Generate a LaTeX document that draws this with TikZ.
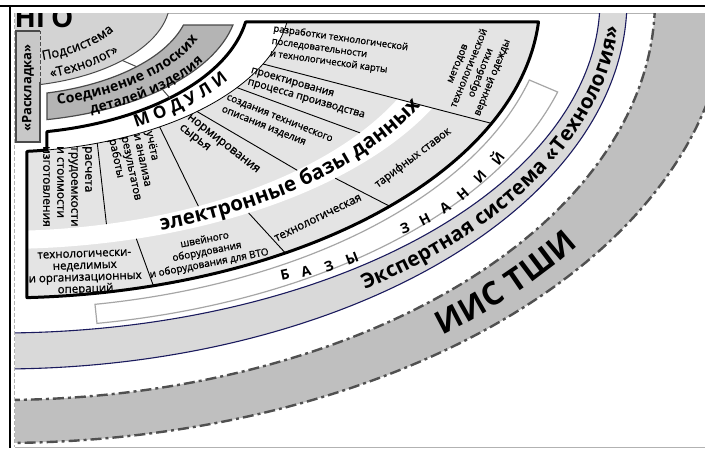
\documentclass[tikz,border=0pt]{standalone}
\usepackage{fontspec}
\setmainfont{Open Sans}
\newfontfamily\semifont[FakeBold=1]{Open Sans}
\usetikzlibrary{decorations.text}

\definecolor{iisfill}{HTML}{BFBFBF}
\definecolor{expfill}{HTML}{D9D9D9}
\definecolor{secfill}{HTML}{E4E4E4}
\definecolor{joinfill}{HTML}{B4B4B4}
\definecolor{subfill}{HTML}{D3D3D3}
\definecolor{layfill}{HTML}{C8C8C8}
\definecolor{navyline}{HTML}{1B1B5E}
\definecolor{dashline}{HTML}{505050}
\definecolor{edgegray}{HTML}{4A4A4A}

% outline of the modules / data bases block
\newcommand{\modoutline}{({asin(22/134)}:249 and 134)
  arc[start angle={asin(22/134)}, end angle={acos(47/249)}, x radius=249, y radius=134]
  -- ({acos(47/290)}:290 and 152)
  arc[start angle={acos(47/290)}, end angle={acos(27/290)}, x radius=290, y radius=152]
  -- ({acos(27/540)}:540 and 298)
  arc[start angle={acos(27/540)}, end angle={asin(22/298)}, x radius=540, y radius=298]
  -- cycle}

\begin{document}
\begin{tikzpicture}[
  x=1pt, y=-1pt,
  iisdash/.style={dashline, line width=2.4pt, dash pattern=on 11pt off 4pt on 3pt off 4pt},
  navyarc/.style={navyline, line width=1.1pt},
  divline/.style={black, line width=0.9pt},
  secttext/.style={inner sep=0pt, align=left},
  lowtext/.style={inner sep=0pt, align=center},
  kbletter/.style={inner sep=0pt, font=\fontsize{14}{14}\selectfont\bfseries},
  arctext/.style={decorate, decoration={text along path, text align=left, raise=#1}},
]
\useasboundingbox (0,0) rectangle (705,448);

% ---- frame ----
\draw[line width=2.5pt] (0,6) -- (705,6);
\draw[line width=2.5pt] (10,6) -- (10,448);
\draw[gray!60] (15,13) -- (705,13);
\draw[gray!60] (15,447) -- (705,447);
\draw[gray!60, line width=1pt, dash pattern=on 4pt off 2pt] (14.5,13) -- (14.5,447);

\begin{scope}
\clip (15,13) rectangle (705,446.5);

% ---- ИИС ТШИ ----
\fill[iisfill] (95:655 and 400) arc[start angle=95, end angle=-5, x radius=655, y radius=400]
  -- (-5:727 and 443) arc[start angle=-5, end angle=95, x radius=727, y radius=443] -- cycle;
\draw[iisdash] (95:655 and 400) arc[start angle=95, end angle=-5, x radius=655, y radius=400];
\draw[iisdash] (95:727 and 443) arc[start angle=95, end angle=-5, x radius=727, y radius=443];
\path[arctext=-11pt, decoration={text={|\fontsize{32}{32}\selectfont\bfseries|ИИС ТШИ}}]
  (50.7:691 and 421) arc[start angle=50.7, end angle=5, x radius=691, y radius=421];

% ---- Экспертная система ----
\fill[expfill] (95:600 and 333) arc[start angle=95, end angle=-5, x radius=600, y radius=333]
  -- (-5:627 and 369) arc[start angle=-5, end angle=95, x radius=627, y radius=369] -- cycle;
\draw[navyarc] (95:600 and 333) arc[start angle=95, end angle=-5, x radius=600, y radius=333];
\draw[navyarc] (95:627 and 369) arc[start angle=95, end angle=-5, x radius=627, y radius=369];
\path[arctext=-7pt, decoration={text={|\fontsize{20.5}{20.5}\selectfont\bfseries|Экспертная система «Технология»}}]
  (53.8:613 and 351) arc[start angle=53.8, end angle=-8, x radius=613, y radius=351];

% ---- базы знаний ----
\draw[gray!70, line width=1.2pt, fill=white]
  ({acos(95/548)}:548 and 309)
  arc[start angle={acos(95/548)}, end angle={asin(80/309)}, x radius=548, y radius=309]
  -- ({asin(92/328)}:581 and 328)
  arc[start angle={asin(92/328)}, end angle={acos(97/581)}, x radius=581, y radius=328] -- cycle;
\node[kbletter, rotate=12] (kb1) at (285,275) {Б};
\node[kbletter, rotate=15] (kb2) at (306,271) {А};
\node[kbletter, rotate=18] (kb3) at (329,266) {З};
\node[kbletter, rotate=21] (kb4) at (352,259) {Ы};
\node[kbletter, rotate=20] (kb5) at (405,228) {З};
\node[kbletter, rotate=27] (kb6) at (425,220) {Н};
\node[kbletter, rotate=34] (kb7) at (445,208) {А};
\node[kbletter, rotate=41] (kb8) at (463,194) {Н};
\node[kbletter, rotate=48] (kb9) at (480,177) {И};
\node[kbletter, rotate=54] (kb10) at (497,158) {Й};

% ---- модули и электронные базы данных ----
\begin{scope}
\clip \modoutline;
\fill[secfill] (95:290 and 152) arc[start angle=95, end angle=-5, x radius=290, y radius=152]
  -- (-5:540 and 298) arc[start angle=-5, end angle=95, x radius=540, y radius=298] -- cycle;
\fill[white] (95:440 and 231) arc[start angle=95, end angle=25.4, x radius=440, y radius=231]
  -- (25.7:480 and 249) arc[start angle=25.7, end angle=95, x radius=480, y radius=249] -- cycle;
\draw[line width=0.8pt] (95:290 and 152) arc[start angle=95, end angle=-5, x radius=290, y radius=152];
\end{scope}
\draw[divline] (70.4:290 and 152) -- (76:440 and 231);
\draw[divline] (56.6:290 and 152) -- (63.2:440 and 231);
\draw[divline] (47.2:290 and 152) -- (47.5:440 and 231);
\draw[divline] (35.2:290 and 152) -- (35.1:440 and 231);
\draw[divline] (24.9:290 and 152) -- (24.46:540 and 298);
\draw[divline] (73.5:480 and 249) -- (73.5:540 and 298);
\draw[divline] (58.8:480 and 249) -- (58.1:540 and 298);
\draw[divline] (45.7:480 and 249) -- (43.8:540 and 298);
\draw[line width=3pt, line join=round] \modoutline;

\path[arctext=-6pt, decoration={text={|\fontsize{17}{17}\selectfont\bfseries|М О Д У Л И}}]
  ({acos(134/266)}:266 and 141) arc[start angle={acos(134/266)}, end angle=10, x radius=266, y radius=141];
\path[arctext=-5.5pt, decoration={text={|\fontsize{20.5}{20.5}\selectfont\bfseries|электронные базы данных}}]
  ({acos(160/460)}:460 and 240) arc[start angle={acos(160/460)}, end angle=10, x radius=460, y radius=240];

\node[secttext, rotate=-90, anchor=north west, font=\fontsize{12}{14}\semifont] (calc) at (92,146)
  {расчета\\трудоемкости\\и стоимости\\изготовления};
\node[secttext, rotate=-78, anchor=north west, font=\fontsize{11}{12.5}\semifont] (work) at (154,130)
  {учёта\\и анализа\\результатов\\работы};
\node[secttext, rotate=-38, anchor=north west, font=\fontsize{12}{13}\semifont] (norm) at (191,113)
  {нормирования\\сырья};
\node[secttext, rotate=-22, anchor=north west, font=\fontsize{10}{13}\semifont] (descr) at (228,94)
  {создания технического\\описания изделия};
\node[secttext, rotate=-16, anchor=north west, font=\fontsize{10.5}{12}\semifont] (proc) at (252,67)
  {проектирования\\процесса производства};
\node[secttext, rotate=-8, anchor=north west, font=\fontsize{9.5}{12.5}\semifont] (seq) at (274,24)
  {разработки технологической\\последовательности\\и технологической карты};

\node[lowtext, rotate=2, font=\fontsize{11.5}{11.8}\semifont] (oper) at (85,273)
  {технологически-\\неделимых\\и организационных\\операций};
\node[lowtext, rotate=11, font=\fontsize{10}{12}\semifont] (equip) at (207,252)
  {швейного\\оборудования\\и оборудования для ВТО};
\node[lowtext, rotate=26, font=\fontsize{11.5}{12}\semifont] (tech) at (318,218) {технологическая};
\node[lowtext, rotate=37, font=\fontsize{11}{12}\semifont] (rate) at (413,158) {тарифных ставок};
\node[lowtext, rotate=68, font=\fontsize{10}{12.5}\semifont] (meth) at (476,71)
  {методов\\технологической\\обработки\\верхней одежды};

% ---- Соединение плоских деталей изделия ----
\draw[edgegray, line width=1.2pt, fill=joinfill]
  ({acos(47/190)}:190 and 96)
  arc[start angle={acos(47/190)}, end angle={asin(25/96)}, x radius=190, y radius=96]
  -- ({asin(25/122)}:238 and 122)
  arc[start angle={asin(25/122)}, end angle={acos(47/238)}, x radius=238, y radius=122] -- cycle;
\draw[edgegray, line width=1pt] (47:238 and 122) -- (47:249 and 134);
\path[arctext=-4.5pt, decoration={text={|\fontsize{14}{14}\selectfont\bfseries|Соединение плоских}}]
  ({acos(57/208)}:208 and 104) arc[start angle={acos(57/208)}, end angle=-5, x radius=208, y radius=104];
\path[arctext=-4.5pt, decoration={text={|\fontsize{13.5}{13.5}\selectfont\bfseries|деталей изделия}}]
  ({acos(90/230)}:230 and 119) arc[start angle={acos(90/230)}, end angle=-5, x radius=230, y radius=119];

% ---- Подсистема «Технолог» ----
\draw[edgegray, line width=1pt, fill=subfill] (0,0) ellipse[x radius=170, y radius=87];
\draw[edgegray, line width=1pt] (44:170 and 87) -- (44:190 and 96);
\path[arctext=-4.5pt, decoration={text={|\fontsize{13}{13}\semifont|Подсистема}}]
  ({acos(42/125)}:125 and 59) arc[start angle={acos(42/125)}, end angle=-5, x radius=125, y radius=59];
\path[arctext=-4.5pt, decoration={text={|\fontsize{13}{13}\semifont|«Технолог»}}]
  ({acos(50/148)}:148 and 77.5) arc[start angle={acos(50/148)}, end angle=-5, x radius=148, y radius=77.5];
\node[anchor=base, font=\fontsize{28}{28}\selectfont\bfseries] (ngo) at (44,27) {НГО};

% ---- «Раскладка» ----
\fill[layfill] (16,31) rectangle (40,142);
\draw[edgegray, line width=1.2pt] (40,31) -- (16,31) -- (16,142) -- (40,142) -- (40,82);
\draw[edgegray, line width=1pt, dash pattern=on 4pt off 2pt] (40,82) -- (40,31);
\node[rotate=90, font=\fontsize{13}{13}\selectfont\bfseries] (layout) at (28,88) {«Раскладка»};
\end{scope}

\end{tikzpicture}
\end{document}
